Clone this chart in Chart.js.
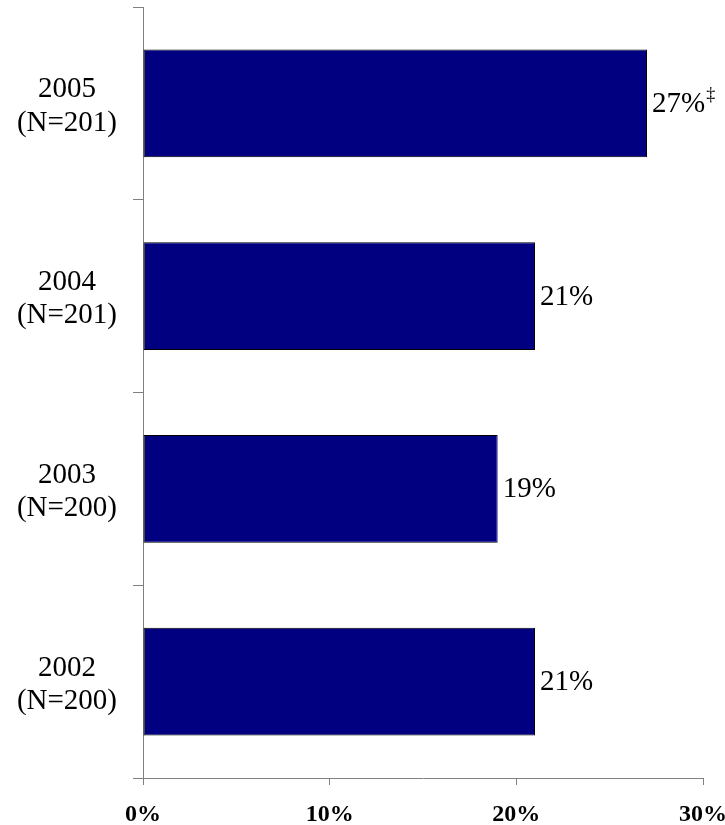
<!DOCTYPE html>
<html>
<head>
<meta charset="utf-8">
<script src="https://cdn.jsdelivr.net/npm/chart.js@4.4.1/dist/chart.umd.min.js"></script>
<style>
  html, body { margin: 0; padding: 0; background: #fff; }
  #wrap { width: 725px; height: 825px; }
</style>
</head>
<body>
<div id="wrap"><canvas id="myBarChart" width="725" height="825"></canvas></div>
<script>
var YEARS = ['2005', '2004', '2003', '2002'],
    SAMPLE_SIZES = [201, 201, 200, 200],
    PERCENTS = [27, 21, 19, 21],
    NOTES = ['\u2021', '', '', ''],
    X_TICKS = [0, 10, 20, 30];

var AXIS_COLOR = '#808080',
    SERIF = '"Liberation Serif", "Times New Roman", serif';

// writes "NN%" at the end of each bar, plus a raised note mark when there is one
var valueLabels = {
    id: 'valueLabels',
    afterDatasetsDraw: function (chart) {
        var ctx = chart.ctx,
            meta = chart.getDatasetMeta(0);

        ctx.save();
        ctx.fillStyle = '#000';
        ctx.textBaseline = 'middle';
        ctx.textAlign = 'left';
        meta.data.forEach(function (bar, i) {
            var text = PERCENTS[i] + '%',
                x = bar.x + 5,
                y = bar.y + 1;

            ctx.font = '29px ' + SERIF;
            ctx.fillText(text, x, y);
            if (NOTES[i]) {
                var w = ctx.measureText(text).width;
                ctx.font = '18px ' + SERIF;
                ctx.fillText(NOTES[i], x + w + 1, y - 9);
            }
        });
        ctx.restore();
    }
};

var createBar = function () {
    var labels = YEARS.map(function (year, i) {
        return [year, '(N=' + SAMPLE_SIZES[i] + ')'];
    });

    return new Chart(document.getElementById('myBarChart').getContext('2d'), {
        type: 'bar',
        data: {
            labels: labels,
            datasets: [{
                data: PERCENTS,
                backgroundColor: '#000080',
                borderColor: '#000000',
                borderWidth: 1,
                borderSkipped: false,
                barPercentage: 0.56,
                categoryPercentage: 1
            }]
        },
        options: {
            indexAxis: 'y',
            responsive: false,
            animation: false,
            events: [],
            layout: {
                padding: { top: 7, right: 22, bottom: 0, left: 0 }
            },
            plugins: {
                legend: { display: false },
                tooltip: { enabled: false }
            },
            scales: {
                x: {
                    min: 0,
                    max: 30,
                    afterBuildTicks: function (scale) {
                        scale.ticks = X_TICKS.map(function (v) { return { value: v }; });
                    },
                    afterFit: function (scale) {
                        scale.height = 47;
                        scale.paddingLeft = 0;
                        scale.paddingRight = 0;
                    },
                    border: { color: AXIS_COLOR, width: 1 },
                    grid: {
                        drawOnChartArea: false,
                        drawTicks: true,
                        tickLength: 7,
                        color: AXIS_COLOR
                    },
                    ticks: {
                        color: '#000',
                        padding: 15,
                        maxRotation: 0,
                        font: { family: SERIF, size: 24, weight: 'bold' },
                        callback: function (v) { return v + '%'; }
                    }
                },
                y: {
                    afterFit: function (scale) {
                        scale.width = 143;
                        scale.paddingTop = 0;
                        scale.paddingBottom = 0;
                    },
                    border: { color: AXIS_COLOR, width: 1 },
                    grid: {
                        offset: true,
                        drawOnChartArea: false,
                        drawTicks: true,
                        tickLength: 10,
                        color: AXIS_COLOR
                    },
                    ticks: {
                        color: '#000',
                        crossAlign: 'center',
                        padding: 16,
                        labelOffset: 3,
                        font: { family: SERIF, size: 29, lineHeight: 1.15 }
                    }
                }
            }
        },
        plugins: [valueLabels]
    });
};

createBar();
</script>
</body>
</html>
